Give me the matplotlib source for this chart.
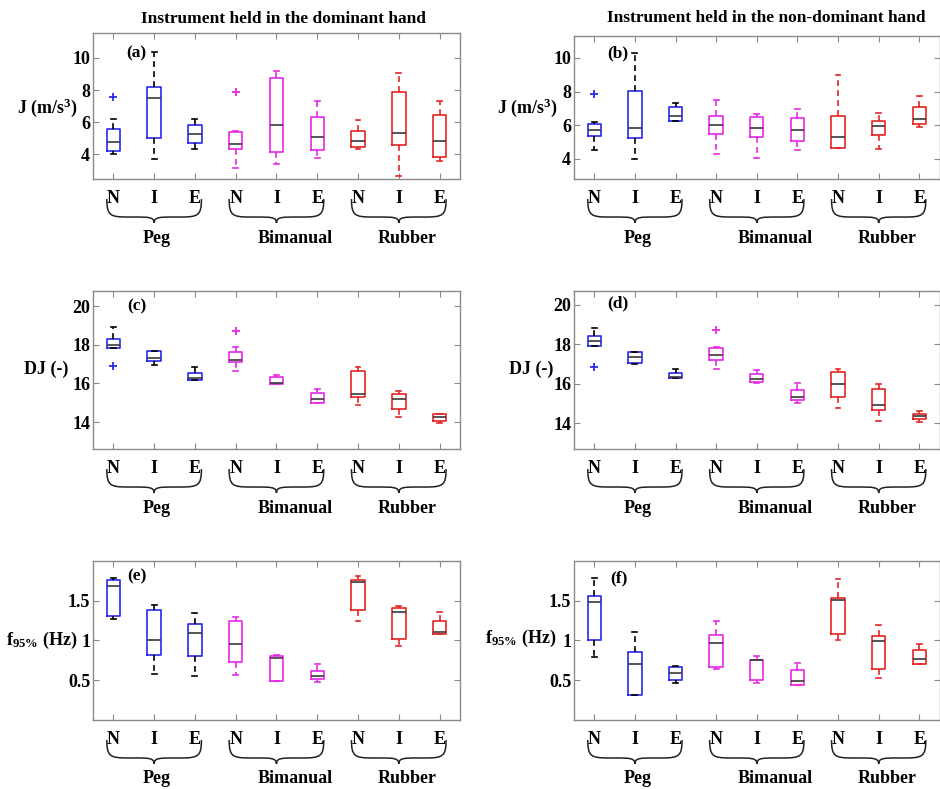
import matplotlib
matplotlib.use('Agg')
import matplotlib.pyplot as plt
import matplotlib.transforms as mtransforms
from matplotlib.path import Path
from matplotlib.patches import PathPatch
import numpy as np

plt.rcParams['font.family'] = 'Liberation Serif'
plt.rcParams['font.weight'] = 'bold'
plt.rcParams['mathtext.fontset'] = 'custom'
plt.rcParams['mathtext.rm'] = 'Liberation Serif:bold'
plt.rcParams['mathtext.bf'] = 'Liberation Serif:bold'
plt.rcParams['mathtext.it'] = 'Liberation Serif:bold'

# Categories
conditions = ['N', 'I', 'E'] * 3
tasks = ['Peg', 'Bimanual', 'Rubber']

# Box summaries, one row per box: [whisker low, q1, median, q3, whisker high]
J_dom = [[4.0, 4.2, 4.75, 5.55, 6.2],
         [3.7, 5.0, 7.5, 8.2, 10.35],
         [4.3, 4.7, 5.25, 5.8, 6.2],
         [3.15, 4.3, 4.65, 5.4, 5.45],
         [3.4, 4.15, 5.8, 8.75, 9.2],
         [3.75, 4.25, 5.1, 6.3, 7.3],
         [4.35, 4.45, 4.8, 5.45, 6.15],
         [2.65, 4.55, 5.3, 7.85, 9.05],
         [3.55, 3.8, 4.8, 6.45, 7.3]]
J_dom_fliers = [[7.55], [], [], [7.85], [], [], [], [], []]

J_nondom = [[4.5, 5.35, 5.74, 6.1, 6.2],
            [4.0, 5.22, 5.85, 8.05, 10.3],
            [6.25, 6.25, 6.57, 7.1, 7.3],
            [4.28, 5.5, 6.04, 6.57, 7.5],
            [4.04, 5.3, 5.82, 6.5, 6.65],
            [4.53, 5.07, 5.74, 6.4, 6.95],
            [4.67, 4.67, 5.32, 6.57, 9.0],
            [4.57, 5.43, 5.95, 6.27, 6.75],
            [5.9, 6.07, 6.38, 7.1, 7.75]]
J_nondom_fliers = [[7.88], [], [], [], [], [], [], [], []]

DJ_dom = [[17.83, 17.86, 18.02, 18.31, 18.92],
          [16.96, 17.18, 17.3, 17.67, 17.7],
          [16.17, 16.2, 16.31, 16.56, 16.83],
          [16.66, 17.1, 17.2, 17.63, 17.91],
          [15.98, 15.98, 16.03, 16.33, 16.45],
          [15.0, 15.0, 15.2, 15.53, 15.74],
          [14.9, 15.29, 15.48, 16.66, 16.87],
          [14.24, 14.66, 15.22, 15.43, 15.6],
          [13.96, 14.05, 14.26, 14.4, 14.43]]
DJ_dom_fliers = [[16.92], [], [], [18.71], [], [], [], [], []]

DJ_nondom = [[17.92, 17.92, 18.19, 18.4, 18.85],
             [17.0, 17.03, 17.35, 17.6, 17.62],
             [16.27, 16.27, 16.35, 16.55, 16.73],
             [16.74, 17.2, 17.45, 17.79, 17.85],
             [16.03, 16.07, 16.23, 16.5, 16.72],
             [15.03, 15.17, 15.34, 15.68, 16.05],
             [14.76, 15.34, 16.0, 16.59, 16.74],
             [14.14, 14.66, 14.92, 15.73, 16.01],
             [14.05, 14.2, 14.35, 14.47, 14.63]]
DJ_nondom_fliers = [[16.87], [], [], [18.72], [], [], [], [], []]

F_dom = [[1.27, 1.31, 1.69, 1.76, 1.78],
         [0.58, 0.82, 1.0, 1.38, 1.44],
         [0.55, 0.81, 1.09, 1.21, 1.34],
         [0.56, 0.73, 0.95, 1.25, 1.29],
         [0.49, 0.49, 0.785, 0.8, 0.82],
         [0.475, 0.51, 0.55, 0.62, 0.7],
         [1.25, 1.38, 1.73, 1.76, 1.81],
         [0.93, 1.02, 1.36, 1.41, 1.43],
         [1.08, 1.08, 1.11, 1.24, 1.36]]
F_dom_fliers = [[], [], [], [], [], [], [], [], []]

F_nondom = [[0.79, 1.0, 1.49, 1.56, 1.79],
            [0.31, 0.31, 0.71, 0.855, 1.11],
            [0.46, 0.5, 0.59, 0.66, 0.68],
            [0.635, 0.67, 0.97, 1.07, 1.24],
            [0.47, 0.5, 0.75, 0.76, 0.8],
            [0.44, 0.44, 0.49, 0.63, 0.72],
            [1.0, 1.08, 1.51, 1.53, 1.77],
            [0.53, 0.64, 0.99, 1.05, 1.19],
            [0.70, 0.71, 0.77, 0.88, 0.95]]
F_nondom_fliers = [[], [], [], [], [], [], [], [], []]

box_colors = ['#2828f0', '#e628e6', '#e62424']
whisker_colors = ['black', '#e628e6', '#e62424']
spine_gray = '#8a8a8a'

fig = plt.figure(figsize=(9.4, 7.89), dpi=100)
FIG_H = 7.89

col_x = [(0.0989, 0.3904), (0.6106, 0.3890)]
# (bottom, height) per row and column
row_y = [[(0.7731, 0.1850), (0.7731, 0.1812)],
         [(0.4309, 0.2003), (0.4309, 0.2003)],
         [(0.0875, 0.2015), (0.0875, 0.2015)]]

panels = [
    (0, 0, J_dom, J_dom_fliers, (2.45, 11.55), [4, 6, 8, 10], ['4', '6', '8', '10'],
     r'J (m/s$^{3}$)', -0.041, 0.49, '(a)', 0.09, 0.86),
    (0, 1, J_nondom, J_nondom_fliers, (2.8, 11.3), [4, 6, 8, 10], ['4', '6', '8', '10'],
     r'J (m/s$^{3}$)', -0.044, 0.50, '(b)', 0.09, 0.88),
    (1, 0, DJ_dom, DJ_dom_fliers, (12.6, 20.8), [14, 16, 18, 20], ['14', '16', '18', '20'],
     'DJ (-)', -0.068, 0.506, '(c)', 0.093, 0.905),
    (1, 1, DJ_nondom, DJ_nondom_fliers, (12.7, 20.7), [14, 16, 18, 20], ['14', '16', '18', '20'],
     'DJ (-)', -0.057, 0.506, '(d)', 0.09, 0.92),
    (2, 0, F_dom, F_dom_fliers, (0.0, 2.0), [0.5, 1.0, 1.5], ['0.5', '1', '1.5'],
     r'f$_{95\%}$ (Hz)', -0.041, 0.503, '(e)', 0.093, 0.90),
    (2, 1, F_nondom, F_nondom_fliers, (0.0, 2.0), [0.5, 1.0, 1.5], ['0.5', '1', '1.5'],
     r'f$_{95\%}$ (Hz)', -0.049, 0.51, '(f)', 0.098, 0.89),
]

titles = ['Instrument held in the dominant hand',
          'Instrument held in the non-dominant hand']
label_shift = [0.06, 0.45, 0.2]

pos = np.arange(1, 10)

for (r, c, rows, fliers, ylim, yt, ytl, ylab, ylx, yly, letter, lx, ly) in panels:
    left, width = col_x[c]
    bottom, height = row_y[r][c]
    ax = fig.add_axes([left, bottom, width, height])

    for i in range(9):
        lo, q1, med, q3, hi = rows[i]
        st = dict(whislo=lo, q1=q1, med=med, q3=q3, whishi=hi, fliers=fliers[i])
        bc = box_colors[i // 3]
        wc = whisker_colors[i // 3]
        ax.bxp([st], positions=[pos[i]], widths=0.33, capwidths=0.12,
               boxprops=dict(color=bc, lw=1.2),
               whiskerprops=dict(color=wc, lw=1.2, linestyle=(0, (3.5, 2.5))),
               capprops=dict(color=wc, lw=1.2),
               medianprops=dict(color='#3a3a3a', lw=1.2),
               flierprops=dict(marker='+', markeredgecolor=bc, markersize=6,
                               markeredgewidth=1.3, linestyle='none'),
               manage_ticks=False)

    ax.set_xlim(0.5, 9.5)
    ax.set_ylim(*ylim)
    ax.set_xticks(pos, conditions)
    ax.set_yticks(yt, ytl)
    ax.tick_params(axis='both', direction='in', top=True, right=True, length=4,
                   color=spine_gray, labelsize=13)
    ax.tick_params(axis='x', pad=8)
    ax.tick_params(axis='y', pad=2)
    for sp in ax.spines.values():
        sp.set_color(spine_gray)
        sp.set_linewidth(1.0)

    ax.text(ylx, yly, ylab, transform=ax.transAxes, ha='right', va='center',
            fontsize=13, fontweight='bold')
    ax.text(lx, ly, letter, transform=ax.transAxes, ha='left', va='center',
            fontsize=12.5, fontweight='bold')

    if r == 0:
        ty = 1.095 if c == 0 else 1.125
        tx = 0.52 if c == 0 else 0.527
        ax.text(tx, ty, titles[c], transform=ax.transAxes, ha='center', va='center',
                fontsize=12.5, fontweight='bold')

    # curly braces under each task group
    trans = mtransforms.blended_transform_factory(ax.transData, fig.dpi_scale_trans)
    y0 = bottom * FIG_H
    ye = y0 - 20 / 100.0
    yh = y0 - 38 / 100.0
    ytip = y0 - 44 / 100.0
    for g in range(3):
        x0 = 3 * g + 1 - 0.16
        x1 = 3 * g + 3 + 0.16
        xm = 0.5 * (x0 + x1)
        a = 0.5
        verts = [(x0, ye),
                 (x0, ye + 0.9 * (yh - ye)), (x0 + 0.15 * a, yh), (x0 + a, yh),
                 (xm - a, yh),
                 (xm - 0.25 * a, yh), (xm, yh), (xm, ytip),
                 (xm, yh), (xm + 0.25 * a, yh), (xm + a, yh),
                 (x1 - a, yh),
                 (x1 - 0.15 * a, yh), (x1, ye + 0.9 * (yh - ye)), (x1, ye)]
        codes = [Path.MOVETO,
                 Path.CURVE4, Path.CURVE4, Path.CURVE4,
                 Path.LINETO,
                 Path.CURVE4, Path.CURVE4, Path.CURVE4,
                 Path.CURVE4, Path.CURVE4, Path.CURVE4,
                 Path.LINETO,
                 Path.CURVE4, Path.CURVE4, Path.CURVE4]
        patch = PathPatch(Path(verts, codes), transform=trans, fill=False,
                          edgecolor='#222222', lw=1.1, clip_on=False)
        ax.add_patch(patch)
        ax.text(xm + label_shift[g], y0 - 59 / 100.0, tasks[g], transform=trans,
                ha='center', va='center', fontsize=13, fontweight='bold')

fig.savefig('out.png', dpi=100)
